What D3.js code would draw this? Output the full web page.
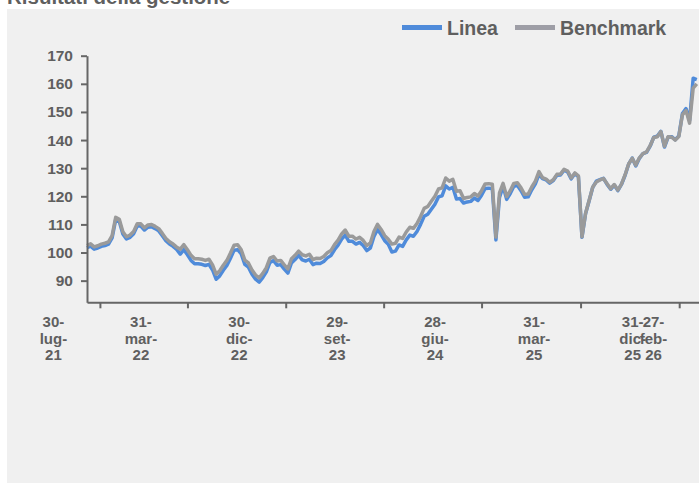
<!DOCTYPE html>
<html lang="it"><head>
<meta charset="utf-8">
<title>Risultati della gestione</title>
<script src="https://cdn.jsdelivr.net/npm/d3@7"></script>
<style>
  body { margin: 0; background: #fff; }
  svg text { font-family: "Liberation Sans", Arial, sans-serif; font-weight: bold; fill: #5f5f5f; }
</style>
</head>
<body>
<script>

// serie: un valore ogni 10 giorni a partire dal 24-06-2021
var startDate = new Date(2021, 5, 24);
var stepDays = 10;

var benchmark = [
  102.5, 103.1, 102.0, 102.4, 103.0, 103.3, 103.8, 106.0, 112.5, 111.8,
  107.4, 105.6, 106.2, 107.5, 110.2, 110.2, 108.8, 109.8, 110.0, 109.3,
  108.5, 106.8, 105.0, 103.8, 103.0, 101.9, 101.2, 102.8, 101.0, 99.0,
  97.8, 97.8, 97.6, 97.2, 97.6, 95.6, 92.3, 93.5, 95.5, 97.2,
  99.8, 102.6, 102.8, 101.0, 97.3, 96.3, 93.8, 92.0, 91.0, 92.6,
  94.6, 98.0, 98.6, 97.0, 97.2, 95.6, 94.2, 97.8, 99.0, 100.5,
  99.2, 98.8, 99.4, 97.5, 98.0, 97.9, 98.6, 99.9, 100.7, 102.8,
  104.4, 106.6, 108.0, 105.8, 105.8, 104.8, 105.4, 104.3, 102.5, 103.4,
  107.5, 110.0, 108.2, 106.0, 104.7, 103.0, 103.3, 105.5, 105.0, 107.3,
  109.0, 108.6, 110.3, 112.8, 115.7, 116.4, 118.2, 120.0, 122.6, 123.0,
  126.5, 125.4, 126.0, 121.8, 122.0, 119.2, 119.6, 119.8, 121.0, 120.1,
  122.0, 124.4, 124.5, 124.3, 105.5, 121.2, 124.6, 119.9, 122.0, 124.6,
  124.8, 123.0, 120.7, 120.8, 123.3, 125.4, 128.8, 126.6, 126.1, 125.0,
  125.9, 127.8, 127.9, 129.6, 129.0, 126.5, 128.3, 127.3, 105.6, 114.0,
  118.6, 123.3, 125.1, 125.8, 126.3, 124.5, 122.7, 124.2, 122.2, 124.3,
  127.6, 131.5, 133.5, 131.1, 133.7, 135.2, 135.8, 138.0, 140.9, 141.2,
  143.0, 137.8, 141.2, 141.0, 140.0, 141.3, 149.0, 150.5, 146.0, 158.5,
  160.0
];

var linea = [
  101.7, 102.3, 101.2, 101.6, 102.2, 102.5, 103.0, 105.2, 111.7, 111.0,
  106.6, 104.8, 105.4, 106.7, 109.4, 109.4, 108.0, 109.0, 109.2, 108.5,
  107.7, 106.0, 104.2, 103.0, 102.2, 101.1, 99.4, 101.0, 99.2, 97.2,
  96.0, 96.0, 95.8, 95.4, 95.8, 93.8, 90.5, 91.7, 93.7, 95.4,
  98.0, 100.8, 101.0, 99.5, 95.8, 94.8, 92.3, 90.5, 89.5, 91.1,
  93.1, 96.5, 97.1, 95.5, 95.7, 94.1, 92.7, 96.3, 97.5, 99.0,
  97.4, 97.0, 97.6, 95.7, 96.2, 96.1, 96.8, 98.1, 98.9, 101.0,
  102.6, 104.8, 106.2, 104.0, 104.0, 103.0, 103.6, 102.5, 100.7, 101.6,
  105.7, 108.2, 106.4, 104.2, 102.9, 100.2, 100.5, 102.7, 102.2, 104.5,
  106.2, 105.8, 107.5, 110.0, 112.9, 113.6, 115.4, 117.2, 119.8, 120.2,
  123.7, 122.6, 123.2, 119.0, 119.2, 117.6, 118.0, 118.2, 119.4, 118.5,
  120.4, 122.8, 122.9, 122.7, 104.5, 119.6, 123.6, 118.9, 121.0, 123.6,
  123.8, 122.0, 119.7, 119.8, 122.3, 124.4, 127.8, 126.3, 125.8, 124.7,
  125.6, 127.5, 127.6, 129.3, 128.7, 126.2, 128.0, 127.0, 105.4, 113.9,
  118.4, 123.2, 125.4, 125.9, 126.4, 124.2, 122.5, 124.0, 122.0, 124.2,
  127.4, 131.4, 133.6, 130.8, 133.5, 135.2, 135.6, 137.8, 141.0, 141.4,
  143.1, 137.5, 141.0, 141.2, 140.1, 141.5, 149.4, 151.2, 147.0, 162.0,
  161.5
];

var tickDates = ["2021-07-30", "2022-03-31", "2022-12-30", "2023-09-29",
                 "2024-06-28", "2025-03-31", "2025-12-31", "2026-02-27"];
var mesi = ["gen", "feb", "mar", "apr", "mag", "giu", "lug", "ago", "set", "ott", "nov", "dic"];
var yTicks = [90, 100, 110, 120, 130, 140, 150, 160, 170];

var w = 699, h = 486;

var svg = d3.select("body").append("svg")
  .attr("width", w)
  .attr("height", h);

// pannello grigio
svg.append("rect")
  .attr("x", 7).attr("y", 9)
  .attr("width", w - 7).attr("height", 474)
  .attr("fill", "#f0f0f0");

svg.append("text")
  .attr("x", 7).attr("y", 4)
  .attr("font-size", "20.5px")
  .text("Risultati della gestione");

var parse = d3.timeParse("%Y-%m-%d");
var data = benchmark.map(function(d, i) {
  return { date: d3.timeDay.offset(startDate, i * stepDays), bench: d, linea: linea[i] };
});

var x = d3.scaleTime()
  .domain([startDate, parse("2026-02-27")])
  .range([87, 700]);

var y = d3.scaleLinear()
  .domain([82.3, 170])
  .range([302.3, 55.7]);

// linee
var lineL = d3.line().x(function(d) { return x(d.date); }).y(function(d) { return y(d.linea); });
var lineB = d3.line().x(function(d) { return x(d.date); }).y(function(d) { return y(d.bench); });

svg.append("path").datum(data)
  .attr("d", lineL)
  .attr("fill", "none")
  .attr("stroke", "#4f8bda")
  .attr("stroke-width", 3.5)
  .attr("stroke-linejoin", "round");

svg.append("path").datum(data)
  .attr("d", lineB)
  .attr("fill", "none")
  .attr("stroke", "#9a9a9a")
  .attr("stroke-width", 3.5)
  .attr("stroke-linejoin", "round");

// asse y
var yAxis = svg.append("g")
  .attr("transform", "translate(87,0)")
  .call(d3.axisLeft(y).tickValues(yTicks).tickSize(6).tickSizeOuter(0).tickPadding(8));
yAxis.selectAll("text").attr("font-size", "15.5px").attr("fill", "#5f5f5f");

// asse x, etichette su tre righe (spostate a sinistra come nell'originale)
var xAxis = svg.append("g")
  .attr("transform", "translate(0,302.3)")
  .call(d3.axisBottom(x).tickValues(tickDates.map(parse)).tickSize(6).tickSizeOuter(0).tickFormat(""));

xAxis.selectAll(".tick").each(function(d) {
  var parts = [d3.timeFormat("%d")(d) + "-", mesi[d.getMonth()] + "-", d3.timeFormat("%y")(d)];
  var t = d3.select(this).append("text")
    .attr("font-size", "15px")
    .attr("text-anchor", "middle")
    .attr("fill", "#5f5f5f");
  parts.forEach(function(p, k) {
    t.append("tspan").attr("x", -47).attr("y", 25 + k * 16.5).text(p);
  });
});

svg.selectAll(".domain, .tick line").attr("stroke", "#666").attr("stroke-width", 2);

// legenda
var legend = [
  { name: "Linea", color: "#4f8bda", x: 402 },
  { name: "Benchmark", color: "#9e9ea6", x: 515 }
];
var lg = svg.selectAll(".leg").data(legend).enter().append("g").attr("class", "leg");
lg.append("rect")
  .attr("x", function(d) { return d.x; })
  .attr("y", 25)
  .attr("width", 40).attr("height", 5)
  .attr("fill", function(d) { return d.color; });
lg.append("text")
  .attr("x", function(d) { return d.x + 45; })
  .attr("y", 35)
  .attr("font-size", "19.5px")
  .attr("fill", "#5a5a5a")
  .text(function(d) { return d.name; });

</script>
</body></html>
